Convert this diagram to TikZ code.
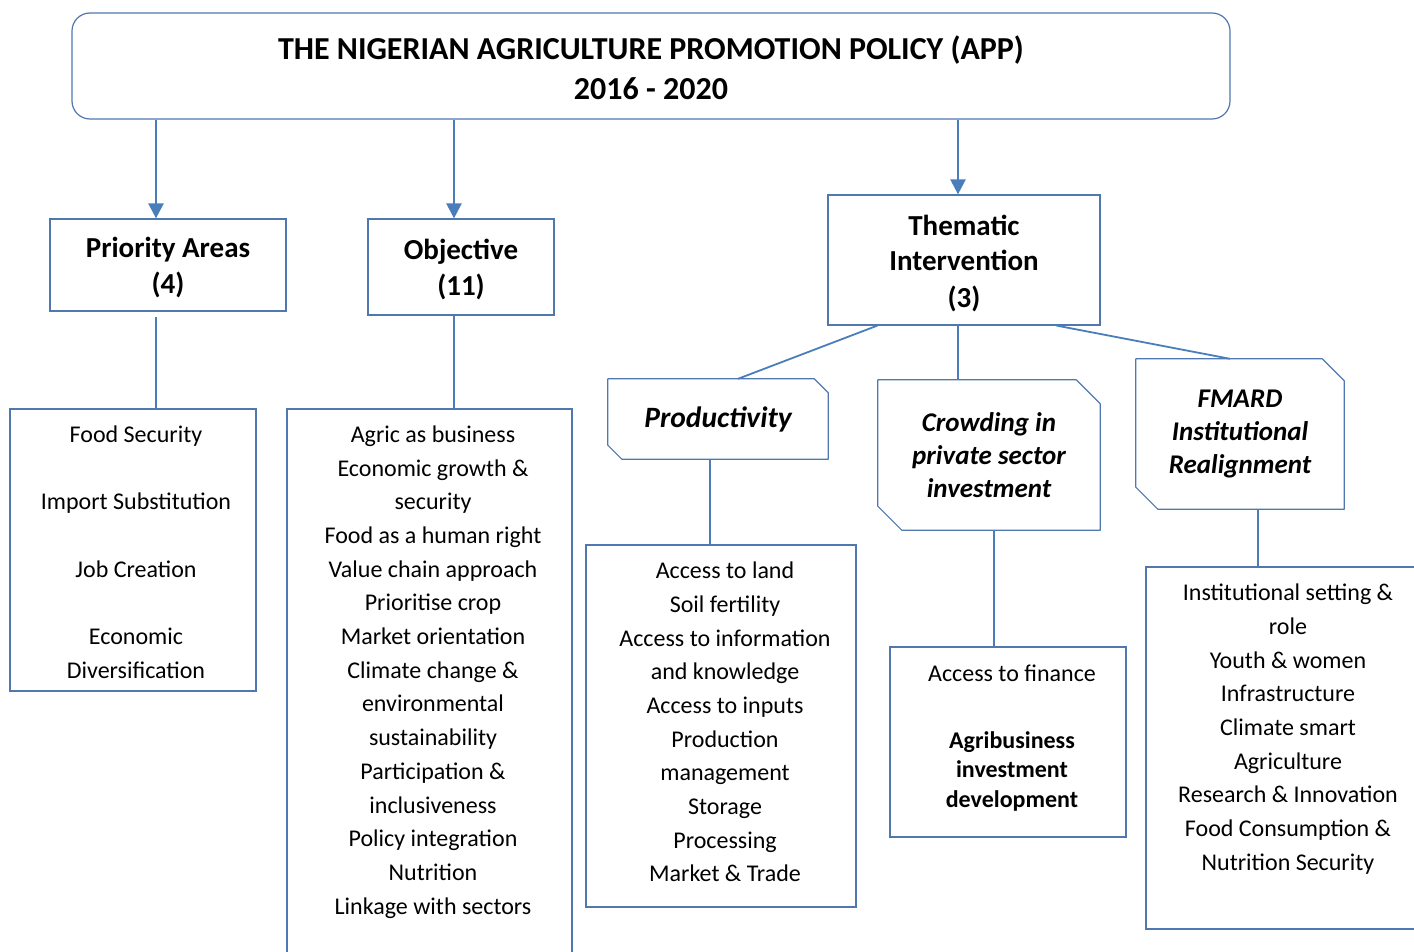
\documentclass[tikz,border=0pt]{standalone}
\usepackage{fontspec}
\setmainfont{Carlito}
\usetikzlibrary{arrows.meta}
\definecolor{linkblue}{RGB}{74,126,187}
\definecolor{edgeblue}{RGB}{80,120,175}
\begin{document}
\begin{tikzpicture}[x=1pt,y=-1pt,
  box/.style={draw=edgeblue,line width=1.2pt,inner sep=0pt,align=center},
  hdrtext/.style={inner sep=0pt,align=center,font=\fontsize{29}{36}\bfseries\selectfont},
  snip/.style={inner sep=0pt,align=center,font=\fontsize{27}{33}\bfseries\itshape\selectfont},
  listtext/.style={inner sep=0pt,align=center,font=\fontsize{24}{33.7}\selectfont},
  arr/.style={draw=linkblue,line width=2.4pt,-{Triangle[length=15pt,width=15pt]}},
  link/.style={draw=linkblue,line width=1.8pt}]
\useasboundingbox (0,0) rectangle (1414,952);

% title
\node[box,rounded corners=18pt,minimum width=1158pt,minimum height=106pt] (title) at (651,66) {};
\node[inner sep=0pt,align=center,font=\fontsize{32}{40}\bfseries\selectfont] (titletext) at (651,68)
  {THE NIGERIAN AGRICULTURE PROMOTION POLICY (APP)\\2016 - 2020};

% second level
\node[box,minimum width=236pt,minimum height=92pt] (pa) at (168,265) {};
\node[box,minimum width=186pt,minimum height=96pt] (ob) at (461,267) {};
\node[box,minimum width=272pt,minimum height=130pt] (th) at (964,260) {};
\node[hdrtext] (patext) at (168,268) {Priority Areas\\(4)};
\node[hdrtext] (obtext) at (461,269) {Objective\\(11)};
\node[hdrtext] (thtext) at (964,263) {Thematic\\Intervention\\(3)};

% list boxes
\node[box,minimum width=246pt,minimum height=282pt] (pl) at (133,550) {};
\node[box,minimum width=285pt,minimum height=561pt] (ol) at (429.5,689.5) {};
\node[box,minimum width=270pt,minimum height=362pt] (prl) at (721,726) {};
\node[box,minimum width=236pt,minimum height=190pt] (fin) at (1008,742) {};
\node[box,minimum width=284pt,minimum height=362pt] (rl) at (1288,748) {};

% snipped thematic boxes
\node[snip,minimum width=220pt,minimum height=80pt,font=\fontsize{29.5}{33}\bfseries\itshape\selectfont] (pr) at (718,419) {Productivity};
\node[snip,minimum width=222pt,minimum height=150pt] (cr) at (989,455) {Crowding in\\private sector\\investment};
\node[snip,minimum width=208pt,minimum height=150pt] (fm) at (1240,434) {FMARD\\Institutional\\Realignment};
\foreach \n/\c in {pr/14pt,cr/24pt,fm/22pt}{
  \draw[edgeblue,line width=1.2pt,line join=round]
    ([xshift=-\c]\n.north east) -- (\n.north west) -- ([yshift=\c]\n.south west)
    -- ([xshift=\c]\n.south west) -- (\n.south east) -- ([yshift=-\c]\n.north east) -- cycle;
}

% list texts
\node[listtext] (plt) at (136,552) {Food Security\\[33.7pt]Import Substitution\\[33.7pt]Job Creation\\[33.7pt]Economic\\Diversification};
\node[listtext] (olt) at (433,672) {Agric as business\\Economic growth \&\\security\\Food as a human right\\Value chain approach\\Prioritise crop\\Market orientation\\Climate change \&\\environmental\\sustainability\\Participation \&\\inclusiveness\\Policy integration\\Nutrition\\Linkage with sectors};
\node[listtext] (prt) at (725,722) {Access to land\\Soil fertility\\Access to information\\and knowledge\\Access to inputs\\Production\\management\\Storage\\Processing\\Market \& Trade};
\node[listtext] (fint) at (1012,673) {Access to finance};
\node[listtext,font=\fontsize{24}{29.5}\bfseries\selectfont] (finb) at (1012,771) {Agribusiness\\investment\\development};
\node[listtext] (rlt) at (1288,729) {Institutional setting \&\\role\\Youth \& women\\Infrastructure\\Climate smart\\Agriculture\\Research \& Innovation\\Food Consumption \&\\Nutrition Security};

% connector columns
\coordinate (xa) at (156,0);
\coordinate (xb) at (454,0);
\coordinate (xc) at (958,0);
\coordinate (xd) at (710,0);
\coordinate (xe) at (994,0);
\coordinate (xf) at (1258,0);

\draw[arr] (title.south -| xa) -- (pa.north -| xa);
\draw[arr] (title.south -| xb) -- (ob.north -| xb);
\draw[arr] (title.south -| xc) -- (th.north -| xc);

\draw[link] ([yshift=-5pt]pa.south -| xa) -- (pl.north -| xa);
\draw[link] (ob.south -| xb) -- (ol.north -| xb);
\draw[link] ([xshift=50pt]th.south west) -- ([xshift=20pt]pr.north);
\draw[link] (th.south -| xc) -- (cr.north -| xc);
\draw[link] ([xshift=-44pt]th.south east) -- ([xshift=-10pt]fm.north);
\draw[link] (pr.south -| xd) -- (prl.north -| xd);
\draw[link] (cr.south -| xe) -- (fin.north -| xe);
\draw[link] (fm.south -| xf) -- (rl.north -| xf);
\end{tikzpicture}
\end{document}
